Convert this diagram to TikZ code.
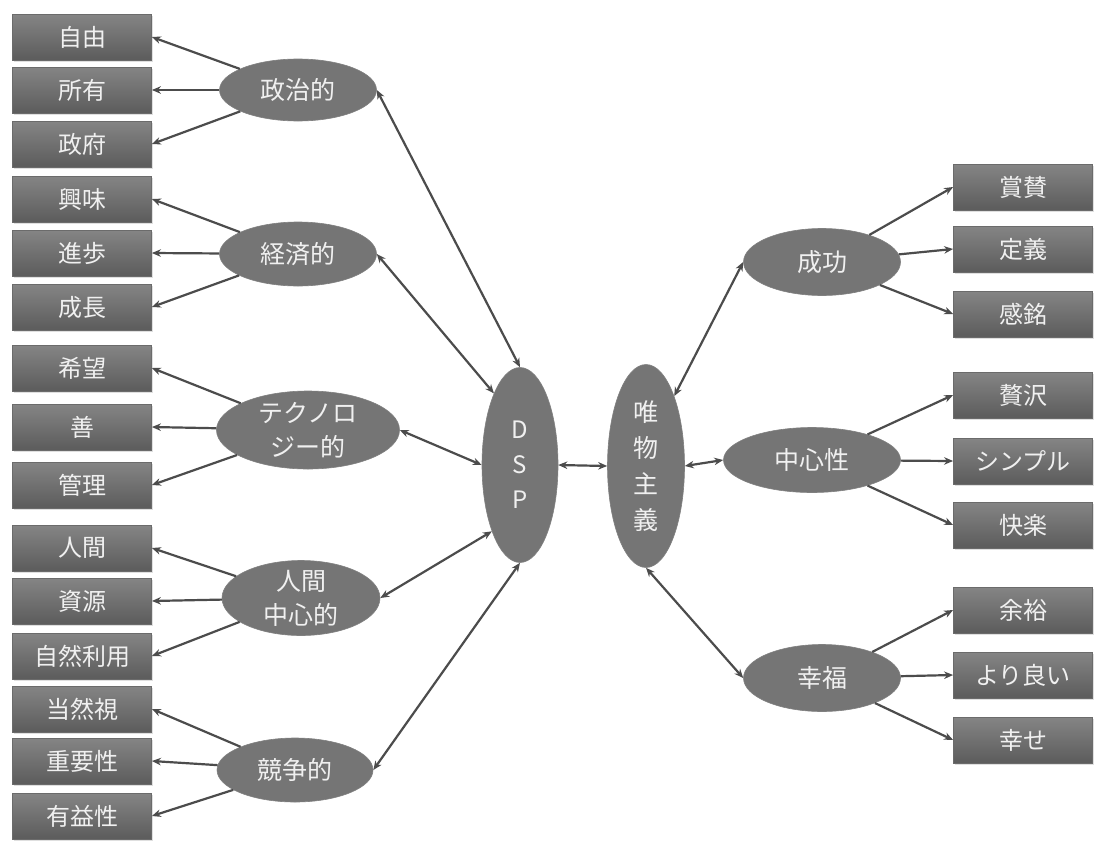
\documentclass[tikz,border=0pt]{standalone}
\usepackage{fontspec}
\newfontfamily\jp{Noto Sans CJK JP}
\usetikzlibrary{shapes.geometric,arrows.meta,shadows}
\begin{document}
\begin{tikzpicture}[x=1pt,y=-1pt,
  boxnode/.style={rectangle, minimum width=139pt, minimum height=46pt, inner sep=0pt,
    top color=black!48, bottom color=black!64, draw=black!58, line width=0.8pt,
    drop shadow={opacity=0.25, shadow xshift=1.5pt, shadow yshift=-1.5pt},
    text=white!94!black, font=\jp\fontsize{24}{28}\selectfont},
  ellnode/.style={ellipse, inner sep=0pt, fill=black!54, draw=black!50, line width=0.6pt,
    text=white!94!black, align=center, font=\jp\fontsize{25}{34}\selectfont},
  conn/.style={draw=black!70, line width=2.2pt, -{Stealth[length=9pt,width=7.5pt]}},
  biconn/.style={draw=black!70, line width=2.2pt, {Stealth[length=9pt,width=7.5pt]}-{Stealth[length=9pt,width=7.5pt]}}
]
\useasboundingbox[fill=white] (0,0) rectangle (1094,841);

% left boxes
\node[boxnode] (b1)  at (82,37)  {自由};
\node[boxnode] (b2)  at (82,90)  {所有};
\node[boxnode] (b3)  at (82,144) {政府};
\node[boxnode] (b4)  at (82,199) {興味};
\node[boxnode] (b5)  at (82,253) {進歩};
\node[boxnode] (b6)  at (82,307) {成長};
\node[boxnode] (b7)  at (82,368) {希望};
\node[boxnode] (b8)  at (82,427) {善};
\node[boxnode] (b9)  at (82,485) {管理};
\node[boxnode] (b10) at (82,548) {人間};
\node[boxnode] (b11) at (82,601) {資源};
\node[boxnode] (b12) at (82,656) {自然利用};
\node[boxnode] (b13) at (82,709) {当然視};
\node[boxnode] (b14) at (82,761) {重要性};
\node[boxnode] (b15) at (82,816) {有益性};

% right boxes
\node[boxnode] (r1) at (1023,187) {賞賛};
\node[boxnode] (r2) at (1023,249) {定義};
\node[boxnode] (r3) at (1023,314) {感銘};
\node[boxnode] (r4) at (1023,395) {贅沢};
\node[boxnode] (r5) at (1023,461) {シンプル};
\node[boxnode] (r6) at (1023,525) {快楽};
\node[boxnode] (r7) at (1023,610) {余裕};
\node[boxnode] (r8) at (1023,675) {より良い};
\node[boxnode] (r9) at (1023,740) {幸せ};

% left ellipses
\node[ellnode, minimum width=157pt, minimum height=62pt] (pol) at (298,90)  {政治的};
\node[ellnode, minimum width=157pt, minimum height=64pt] (eco) at (298,254) {経済的};
\node[ellnode, minimum width=183pt, minimum height=78pt, inner ysep=-2.5pt] (tec) at (308,430) {テクノロ\\ジー的};
\node[ellnode, minimum width=158pt, minimum height=75pt, inner ysep=-3pt] (hum) at (301,598) {人間\\中心的};
\node[ellnode, minimum width=156pt, minimum height=64pt] (com) at (295,770) {競争的};

% centre ellipses
\node[ellnode, minimum width=76pt, minimum height=195pt, font=\jp\fontsize{24}{35}\selectfont] (dsp) at (520,465) {D\\S\\P};
\node[ellnode, minimum width=77pt, minimum height=203pt, font=\jp\fontsize{25}{36}\selectfont] (mat) at (646,466) {唯\\物\\主\\義};

% right ellipses
\node[ellnode, minimum width=157pt, minimum height=67pt] (suc) at (822,262) {成功};
\node[ellnode, minimum width=177pt, minimum height=65pt] (cen) at (812,460) {中心性};
\node[ellnode, minimum width=157pt, minimum height=67pt] (hap) at (822,678) {幸福};

% ellipse -> boxes (left)
\draw[conn] (pol) -- (b1.east);
\draw[conn] (pol) -- (b2.east);
\draw[conn] (pol) -- (b3.east);
\draw[conn] (eco) -- (b4.east);
\draw[conn] (eco) -- (b5.east);
\draw[conn] (eco) -- (b6.east);
\draw[conn] (tec) -- (b7.east);
\draw[conn] (tec) -- (b8.east);
\draw[conn] (tec) -- (b9.east);
\draw[conn] (hum) -- (b10.east);
\draw[conn] (hum) -- (b11.east);
\draw[conn] (hum) -- (b12.east);
\draw[conn] (com) -- (b13.east);
\draw[conn] (com) -- (b14.east);
\draw[conn] (com) -- (b15.east);

% ellipse -> boxes (right)
\draw[conn] (suc) -- (r1.west);
\draw[conn] (suc) -- (r2.west);
\draw[conn] (suc) -- (r3.west);
\draw[conn] (cen) -- (r4.west);
\draw[conn] (cen) -- (r5.west);
\draw[conn] (cen) -- (r6.west);
\draw[conn] (hap) -- (r7.west);
\draw[conn] (hap) -- (r8.west);
\draw[conn] (hap) -- (r9.west);

% centre links
\draw[biconn] (pol.east) -- (dsp.north);
\draw[biconn] (eco.east) -- (dsp.110);
\draw[biconn] (tec.east) -- (dsp.west);
\draw[biconn] (hum.east) -- (dsp.247);
\draw[biconn] (com.east) -- (dsp.south);
\draw[biconn] (dsp.east) -- (mat.west);
\draw[biconn] (mat.68) -- (suc.west);
\draw[biconn] (mat.east) -- (cen.west);
\draw[biconn] (mat.south) -- (hap.west);
\end{tikzpicture}
\end{document}
